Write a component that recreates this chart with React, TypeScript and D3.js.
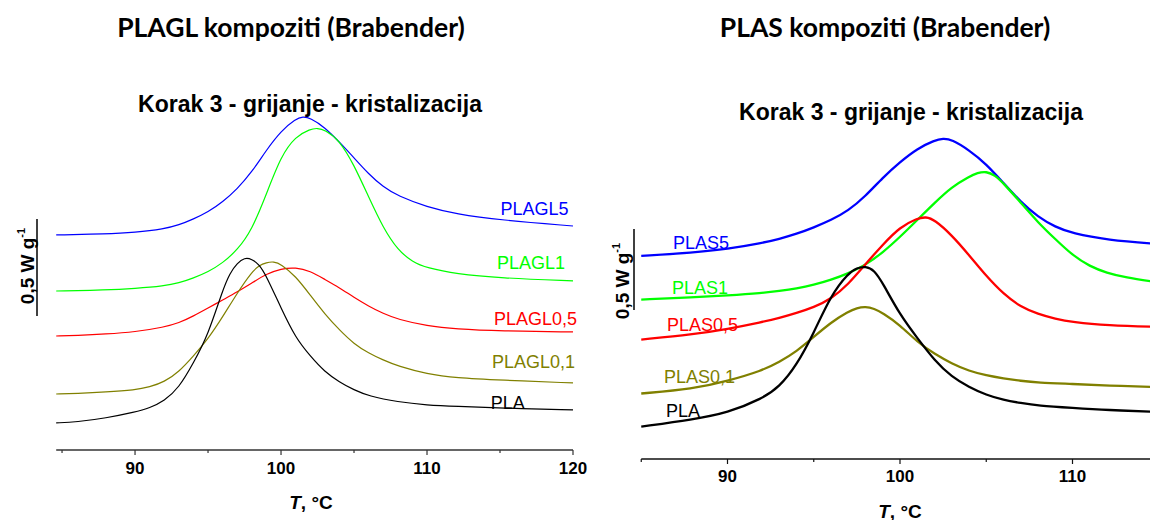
import React from 'react';
import * as d3 from 'd3';

type Pt = [number, number];

// ---------- tick values ----------
const LEFT_MAJOR = [90, 100, 110, 120];
const LEFT_MINOR = [85, 95, 105, 115];
const RIGHT_MAJOR = [90, 100, 110];
const RIGHT_MINOR = [85, 95, 105, 115];

// ---------- left panel (PLAGL), [T °C, heat flow W/g shifted] ----------
const PLA_L: Pt[] = [[84.6,0.088],[86,0.093],[88,0.113],[90,0.144],[91,0.165],[92,0.201],[93,0.268],[94,0.397],[95,0.541],[96,0.773],[96.5,0.861],[97,0.912],[97.5,0.940],[98,0.933],[98.5,0.905],[99,0.845],[100,0.680],[101,0.526],[102,0.433],[103,0.351],[104,0.299],[105,0.258],[106,0.227],[108,0.196],[110,0.180],[112,0.173],[115,0.165],[120,0.155]];
const PLAGL01: Pt[] = [[84.6,0.237],[86,0.240],[88,0.247],[90,0.258],[91,0.273],[92,0.299],[93,0.351],[94,0.433],[95,0.521],[96,0.634],[97,0.758],[98,0.866],[98.5,0.900],[99,0.915],[99.5,0.920],[100,0.907],[101,0.845],[102,0.747],[103,0.649],[104,0.567],[105,0.495],[106,0.448],[107,0.412],[108,0.381],[110,0.340],[112,0.320],[115,0.309],[120,0.294]];
const PLAGL05: Pt[] = [[84.6,0.536],[86,0.539],[88,0.546],[90,0.557],[92,0.582],[93,0.603],[94,0.639],[95,0.680],[96,0.722],[97,0.763],[98,0.809],[99,0.856],[100,0.883],[101,0.890],[102,0.871],[103,0.828],[104,0.785],[105,0.735],[106,0.690],[107,0.652],[108,0.622],[110,0.588],[112,0.572],[115,0.562],[120,0.557]];
const PLAGL1: Pt[] = [[84.6,0.768],[88,0.773],[90,0.781],[92,0.794],[93,0.809],[94,0.835],[95,0.866],[96,0.912],[97,0.979],[98,1.082],[99,1.268],[100,1.464],[101,1.565],[102,1.603],[102.5,1.608],[103,1.598],[104,1.546],[105,1.418],[106,1.253],[107,1.093],[108,0.979],[109,0.918],[110,0.887],[112,0.856],[115,0.835],[120,0.820]];
const PLAGL5: Pt[] = [[84.6,1.057],[88,1.062],[90,1.070],[92,1.088],[93,1.108],[94,1.139],[95,1.175],[96,1.227],[97,1.294],[98,1.381],[99,1.495],[100,1.593],[101,1.655],[101.5,1.667],[102,1.660],[103,1.612],[104,1.536],[105,1.454],[106,1.371],[107,1.304],[108,1.258],[110,1.201],[112,1.165],[115,1.134],[120,1.103]];

// ---------- right panel (PLAS) ----------
const PLA_R: Pt[] = [[85,0.083],[88,0.127],[90,0.167],[92,0.255],[93,0.327],[94,0.460],[95,0.660],[96,0.895],[97,1.030],[97.5,1.062],[98,1.072],[98.5,1.050],[99,0.969],[100,0.772],[101,0.630],[102,0.491],[103,0.389],[104,0.327],[105,0.278],[106,0.247],[107,0.228],[108,0.212],[110,0.198],[112,0.185],[115,0.173]];
const PLAS01: Pt[] = [[85,0.287],[88,0.315],[90,0.364],[92,0.428],[93,0.481],[94,0.546],[95,0.636],[96,0.726],[97,0.792],[97.5,0.815],[98,0.823],[98.5,0.811],[99,0.784],[100,0.710],[101,0.605],[102,0.531],[103,0.472],[104,0.426],[105,0.399],[106,0.380],[107,0.365],[108,0.354],[110,0.346],[112,0.336],[115,0.327]];
const PLAS05: Pt[] = [[85,0.620],[88,0.652],[90,0.685],[92,0.728],[93,0.753],[94,0.784],[95,0.819],[96,0.870],[97,0.960],[98,1.086],[99,1.206],[100,1.315],[101,1.368],[101.5,1.378],[102,1.360],[103,1.265],[104,1.142],[105,1.012],[106,0.901],[107,0.821],[108,0.778],[109,0.748],[110,0.728],[112,0.707],[115,0.698]];
const PLAS1: Pt[] = [[85,0.867],[88,0.880],[90,0.892],[92,0.907],[93,0.920],[94,0.935],[95,0.957],[96,0.988],[97,1.028],[98,1.080],[99,1.157],[100,1.253],[101,1.358],[102,1.463],[103,1.562],[104,1.625],[104.5,1.650],[105,1.658],[105.5,1.635],[106,1.585],[107,1.465],[108,1.343],[109,1.240],[110,1.140],[111,1.072],[112,1.031],[113,1.005],[115,0.972]];
const PLAS5: Pt[] = [[85,1.136],[88,1.157],[90,1.179],[92,1.216],[93,1.241],[94,1.272],[95,1.312],[96,1.357],[97,1.415],[98,1.505],[99,1.620],[100,1.716],[101,1.799],[102,1.850],[102.5,1.862],[103,1.855],[104,1.790],[105,1.704],[106,1.586],[107,1.469],[108,1.377],[109,1.315],[110,1.275],[112,1.235],[115,1.210]];

const C_BLUE = '#0000ff';
const C_GREEN = '#00ff00';
const C_RED = '#ff0000';
const C_OLIVE = '#808000';
const C_BLACK = '#000000';

interface Series { name: string; color: string; data: Pt[]; lx: number; ly: number; }

const LEFT_SERIES: Series[] = [
  { name: 'PLAGL5', color: C_BLUE, data: PLAGL5, lx: 119.7, ly: 1.160 },
  { name: 'PLAGL1', color: C_GREEN, data: PLAGL1, lx: 119.45, ly: 0.879 },
  { name: 'PLAGL0,5', color: C_RED, data: PLAGL05, lx: 120.27, ly: 0.595 },
  { name: 'PLAGL0,1', color: C_OLIVE, data: PLAGL01, lx: 120.14, ly: 0.369 },
  { name: 'PLA', color: C_BLACK, data: PLA_L, lx: 116.7, ly: 0.162 },
];

const RIGHT_SERIES: Series[] = [
  { name: 'PLAS5', color: C_BLUE, data: PLAS5, lx: 86.84, ly: 1.176 },
  { name: 'PLAS1', color: C_GREEN, data: PLAS1, lx: 86.78, ly: 0.904 },
  { name: 'PLAS0,5', color: C_RED, data: PLAS05, lx: 86.49, ly: 0.670 },
  { name: 'PLAS0,1', color: C_OLIVE, data: PLAS01, lx: 86.32, ly: 0.349 },
  { name: 'PLA', color: C_BLACK, data: PLA_R, lx: 86.43, ly: 0.139 },
];

const ARIAL = '"Liberation Sans", Arial, sans-serif';
const TITLE_FONT = 'Lato, "Open Sans", sans-serif';

interface PanelProps {
  series: Series[];
  xDomain: [number, number];
  xRange: [number, number];
  yDomain: [number, number];
  yRange: [number, number];
  axisY: number;
  major: number[];
  minor: number[];
  lineWidth: number;
  axisColor: string;
  labelAnchor: 'start' | 'end';
  title: string;
  titleX: number;
  subX: number;
  subY: number;
  tickLabelY: number;
  axisTitleY: number;
  axisTitleX: number;
  barX: number;
  barBase: number;
  barTextX: number;
  barTextY: number;
}

function Panel(p: PanelProps) {
  const x = d3.scaleLinear().domain(p.xDomain).range(p.xRange);
  const y = d3.scaleLinear().domain(p.yDomain).range(p.yRange);
  const line = d3.line<Pt>().x(d => x(d[0])).y(d => y(d[1])).curve(d3.curveBasis);
  return (
    <g>
      <text x={p.titleX} y={37} textAnchor="middle" fontFamily={TITLE_FONT} fontWeight={700} fontSize={26.5}>{p.title}</text>
      <text x={p.subX} y={p.subY} textAnchor="middle" fontFamily={ARIAL} fontWeight={700} fontSize={23}>Korak 3 - grijanje - kristalizacija</text>
      {/* scale bar */}
      <line x1={p.barX} x2={p.barX} y1={y(p.barBase)} y2={y(p.barBase + 0.5)} stroke="#000" strokeWidth={1.5} />
      <text transform={`translate(${p.barTextX},${p.barTextY}) rotate(-90)`} textAnchor="middle" fontFamily={ARIAL} fontWeight={700} fontSize={19}>
        0,5 W g<tspan fontSize={11} dy={-9}>-1</tspan>
      </text>
      {/* curves */}
      {p.series.map(s => (
        <path key={s.name} d={line(s.data) || ''} fill="none" stroke={s.color} strokeWidth={p.lineWidth} />
      ))}
      {p.series.map(s => (
        <text key={s.name + 'l'} x={x(s.lx)} y={y(s.ly)} textAnchor={p.labelAnchor} fill={s.color} fontFamily={ARIAL} fontSize={18}>{s.name}</text>
      ))}
      {/* x axis */}
      <line x1={p.xRange[0]} x2={p.xRange[1]} y1={p.axisY} y2={p.axisY} stroke={p.axisColor} strokeWidth={1.5} />
      {p.minor.map(t => (
        <line key={'m' + t} x1={x(t)} x2={x(t)} y1={p.axisY} y2={p.axisY + 3} stroke={p.axisColor} strokeWidth={1.2} />
      ))}
      {p.major.map(t => (
        <g key={'M' + t}>
          <line x1={x(t)} x2={x(t)} y1={p.axisY} y2={p.axisY + 5} stroke={p.axisColor} strokeWidth={1.2} />
          <text x={x(t)} y={p.tickLabelY} textAnchor="middle" fontFamily={ARIAL} fontWeight={700} fontSize={17}>{t}</text>
        </g>
      ))}
      <text x={p.axisTitleX} y={p.axisTitleY} textAnchor="middle" fontFamily={ARIAL} fontWeight={700} fontSize={19}>
        <tspan fontStyle="italic">T</tspan>, °C
      </text>
    </g>
  );
}

export default function App() {
  return (
    <div style={{ position: 'absolute', left: 0, top: 0, width: 1150, height: 520, background: '#fff' }}>
      <svg width={1150} height={520} viewBox="0 0 1150 520" style={{ display: 'block' }}>
        <rect width={1150} height={520} fill="#fff" />
        <Panel
          series={LEFT_SERIES}
          xDomain={[84.6, 120]} xRange={[56.2, 573]}
          yDomain={[0, 1.7]} yRange={[440, 110.2]}
          axisY={450} major={LEFT_MAJOR} minor={LEFT_MINOR}
          lineWidth={1.2} axisColor="#333" labelAnchor="end"
          title="PLAGL kompoziti (Brabender)" titleX={291}
          subX={310} subY={112}
          tickLabelY={474} axisTitleY={509} axisTitleX={311}
          barX={37} barBase={0.639} barTextX={34} barTextY={266}
        />
        <Panel
          series={RIGHT_SERIES}
          xDomain={[85, 115]} xRange={[641.25, 1158.75]}
          yDomain={[0, 2]} yRange={[440, 116]}
          axisY={459} major={RIGHT_MAJOR} minor={RIGHT_MINOR}
          lineWidth={2.3} axisColor="#111" labelAnchor="start"
          title="PLAS kompoziti (Brabender)" titleX={885}
          subX={911} subY={120}
          tickLabelY={482} axisTitleY={518} axisTitleX={900}
          barX={634} barBase={0.802} barTextX={629} barTextY={281}
        />
      </svg>
    </div>
  );
}
